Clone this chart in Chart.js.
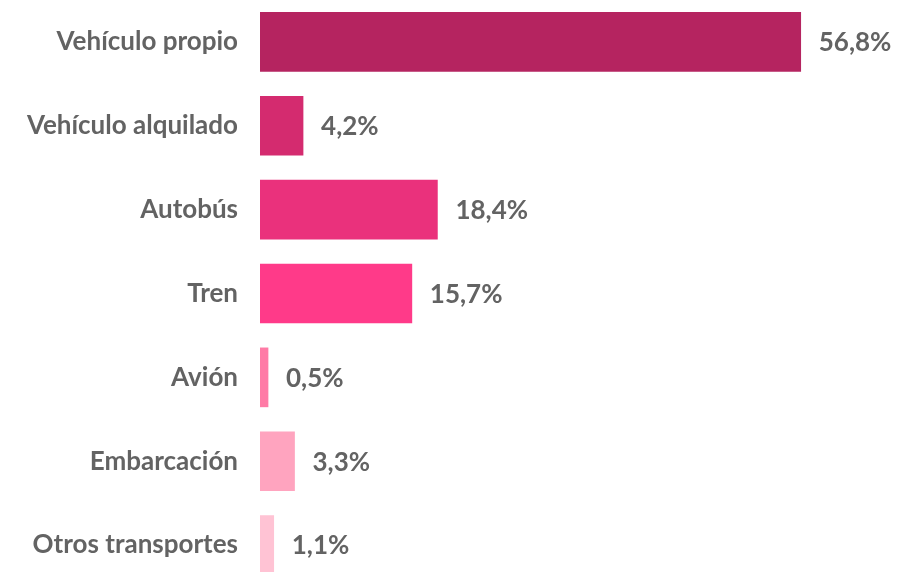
<!DOCTYPE html>
<html lang="es">
<head>
<meta charset="utf-8">
<title>Medio de transporte</title>
<script src="https://cdn.jsdelivr.net/npm/chart.js@4.4.0/dist/chart.umd.min.js"></script>
<style>
	html, body {
		margin: 0;
		padding: 0;
		background: #ffffff;
		overflow: hidden;
	}
	#wrap {
		position: relative;
		width: 897px;
		height: 587px;
	}
</style>
</head>
<body>
<div id="wrap"><canvas id="chart"></canvas></div>
<script>
const categories = [
	"Vehículo propio",
	"Vehículo alquilado",
	"Autobús",
	"Tren",
	"Avión",
	"Embarcación",
	"Otros transportes"
]
const shares = [56.8, 4.2, 18.4, 15.7, 0.5, 3.3, 1.1]
const barColors = ["#b52460", "#d42b6f", "#ea317c", "#ff3a89", "#ff7ba6", "#ffa4bf", "#ffc3d4"]

const textColor = "#636363"
const fontFamily = "Lato, 'Open Sans', sans-serif"
// origin of the value axis sits a little left of zero so thin bars stay visible
const axisOrigin = -0.35

// writes "56,8%" style labels just past the end of each bar
const valueLabels = {
	id: "valueLabels",
	afterDatasetsDraw(chart) {
		const { ctx } = chart
		const meta = chart.getDatasetMeta(0)
		ctx.save()
		ctx.fillStyle = textColor
		ctx.font = "bold 26px " + fontFamily
		ctx.textAlign = "left"
		ctx.textBaseline = "middle"
		meta.data.forEach((bar, i) => {
			const text = shares[i].toFixed(1).replace(".", ",") + "%"
			ctx.fillText(text, bar.x + 18, bar.y + 1)
		})
		ctx.restore()
	}
}

new Chart(document.getElementById("chart"), {
	type: "bar",
	data: {
		labels: categories,
		datasets: [{
			data: shares,
			base: axisOrigin,
			backgroundColor: barColors,
			borderWidth: 0,
			barThickness: 59
		}]
	},
	options: {
		indexAxis: "y",
		responsive: true,
		maintainAspectRatio: false,
		animation: false,
		layout: { padding: { top: 0, bottom: 0, left: 0, right: 66 } },
		plugins: {
			legend: { display: false },
			tooltip: { enabled: false }
		},
		scales: {
			x: {
				display: false,
				min: axisOrigin,
				max: 60
			},
			y: {
				afterFit(scale) {
					// fixed label column, and no extra room above/below the categories
					scale.width = 260
					scale.paddingTop = 0
					scale.paddingBottom = 0
				},
				grid: { display: false, drawTicks: false },
				border: { display: false },
				ticks: {
					color: textColor,
					padding: 22,
					font: { family: fontFamily, size: 26, weight: "bold" }
				}
			}
		}
	},
	plugins: [valueLabels]
})
</script>
</body>
</html>
